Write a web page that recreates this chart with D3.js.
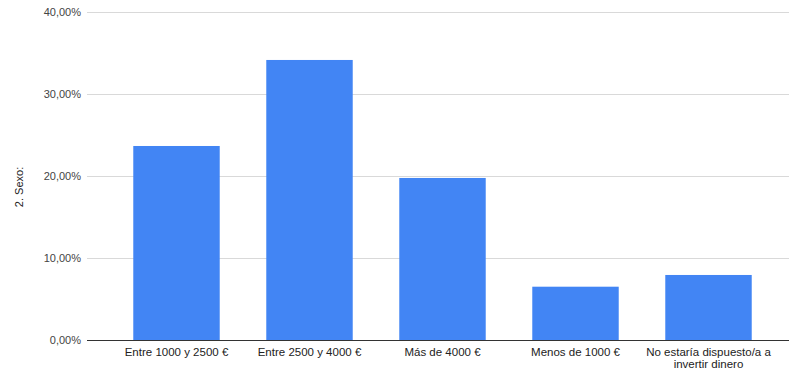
<!DOCTYPE html>
<html><head><meta charset="utf-8">
<script src="https://cdn.jsdelivr.net/npm/d3@7"></script>
<style>body{margin:0;background:#fff}svg{display:block}</style>
</head><body>
<svg id="c" width="789" height="370"></svg>
<script>
const categories = ["Entre 1000 y 2500 €", "Entre 2500 y 4000 €", "Más de 4000 €", "Menos de 1000 €", "No estaría dispuesto/a a invertir dinero"];
const values = [0.2366, 0.3415, 0.1976, 0.065, 0.0793];
const yTicks = [0, 0.1, 0.2, 0.3, 0.4];
const yTitle = "2. Sexo:";

const FONT = "'Liberation Sans', Arial, sans-serif";
const svg = d3.select("#c");
const pLeft = 87, pRight = 789, pTop = 12, pBottom = 340;
const y = d3.scaleLinear().domain([0, 0.4]).range([pBottom, pTop]);
const x = d3.scaleBand().domain(categories).range([110, 775]).paddingInner(0.35).paddingOuter(0.175);
const fmt = v => d3.format(".2f")(v * 100).replace(".", ",") + "%";

svg.append("g").selectAll("line").data(yTicks.filter(d => d > 0)).join("line")
  .attr("x1", pLeft).attr("x2", pRight).attr("y1", d => y(d)).attr("y2", d => y(d))
  .attr("stroke", "#d9d9d9").attr("stroke-width", 1).attr("shape-rendering", "crispEdges");

svg.append("g").selectAll("text").data(yTicks).join("text")
  .attr("x", 81).attr("y", d => y(d)).attr("dy", "0.35em").attr("text-anchor", "end")
  .attr("font-family", FONT).attr("font-size", 11).attr("fill", "#444")
  .text(fmt);

svg.append("g").selectAll("rect").data(values).join("rect")
  .attr("x", (d, i) => x(categories[i])).attr("width", x.bandwidth())
  .attr("y", d => y(d)).attr("height", d => y(0) - y(d))
  .attr("fill", "#4285f4");

svg.append("line").attr("x1", pLeft).attr("x2", pRight).attr("y1", pBottom + 0.5).attr("y2", pBottom + 0.5)
  .attr("stroke", "#333").attr("stroke-width", 1);

const xl = svg.append("g").selectAll("text").data(categories).join("text")
  .attr("x", d => x(d) + x.bandwidth() / 2).attr("y", 356).attr("text-anchor", "middle")
  .attr("font-family", FONT).attr("font-size", 11.5).attr("fill", "#222");
xl.each(function(d) {
  const t = d3.select(this);
  const lines = d.length > 25 ? ["No estaría dispuesto/a a", "invertir dinero"] : [d];
  lines.forEach((l, i) => t.append("tspan").attr("x", x(d) + x.bandwidth() / 2).attr("dy", i === 0 ? 0 : 12).text(l));
});

svg.append("text").attr("transform", `translate(23,187) rotate(-90)`)
  .attr("text-anchor", "middle").attr("font-family", FONT)
  .attr("font-size", 11).attr("fill", "#222").text(yTitle);
</script>
</body></html>
